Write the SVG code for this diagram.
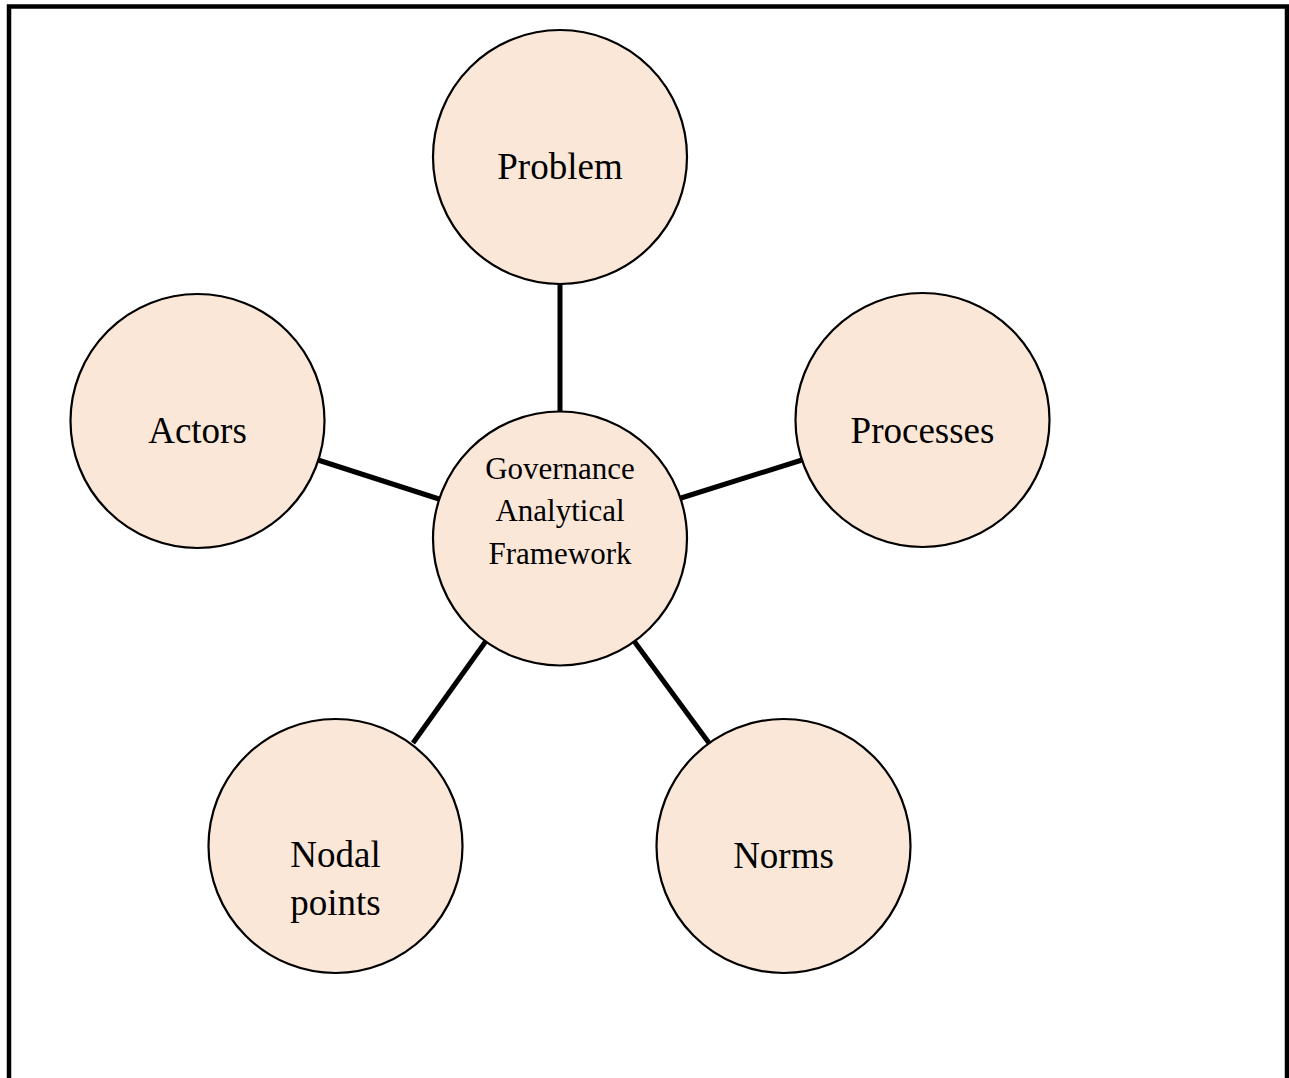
<svg xmlns="http://www.w3.org/2000/svg" width="1289" height="1078" viewBox="0 0 1289 1078">
<style>
.node circle{fill:#FBE7D8;stroke:#000;stroke-width:2.2}
.node text{font-family:"Liberation Serif","Times New Roman",serif;fill:#000;text-anchor:middle}
.big{font-size:37px}
.small{font-size:31px}
.conn line{stroke:#000;stroke-width:5}
</style>
<rect width="1289" height="1078" fill="#fff"/>
<path d="M9,1085 V6.5 H1287 V1085" fill="none" stroke="#000" stroke-width="4.5"/>
<g id="connectors" class="conn">
<line x1="560" y1="284" x2="560" y2="413"/>
<line x1="318" y1="460" x2="439" y2="499"/>
<line x1="681" y1="498" x2="802" y2="460"/>
<line x1="413" y1="743" x2="486" y2="641"/>
<line x1="634" y1="641" x2="709" y2="743"/>
</g>
<g id="problem" class="node">
<circle cx="560" cy="157" r="127"/>
<text class="big" x="560" y="179">Problem</text>
</g>
<g id="actors" class="node">
<circle cx="197.5" cy="421" r="127"/>
<text class="big" x="197.5" y="443">Actors</text>
</g>
<g id="processes" class="node">
<circle cx="922.5" cy="420" r="127"/>
<text class="big" x="922.5" y="443">Processes</text>
</g>
<g id="center" class="node">
<circle cx="560" cy="538.5" r="127"/>
<text class="small" x="560" y="478.5">Governance</text>
<text class="small" x="560" y="521">Analytical</text>
<text class="small" x="560" y="563.5">Framework</text>
</g>
<g id="nodal-points" class="node">
<circle cx="335.5" cy="846" r="127"/>
<text class="big" x="335.5" y="867">Nodal</text>
<text class="big" x="335.5" y="915">points</text>
</g>
<g id="norms" class="node">
<circle cx="783.5" cy="846" r="127"/>
<text class="big" x="783.5" y="868">Norms</text>
</g>
</svg>
